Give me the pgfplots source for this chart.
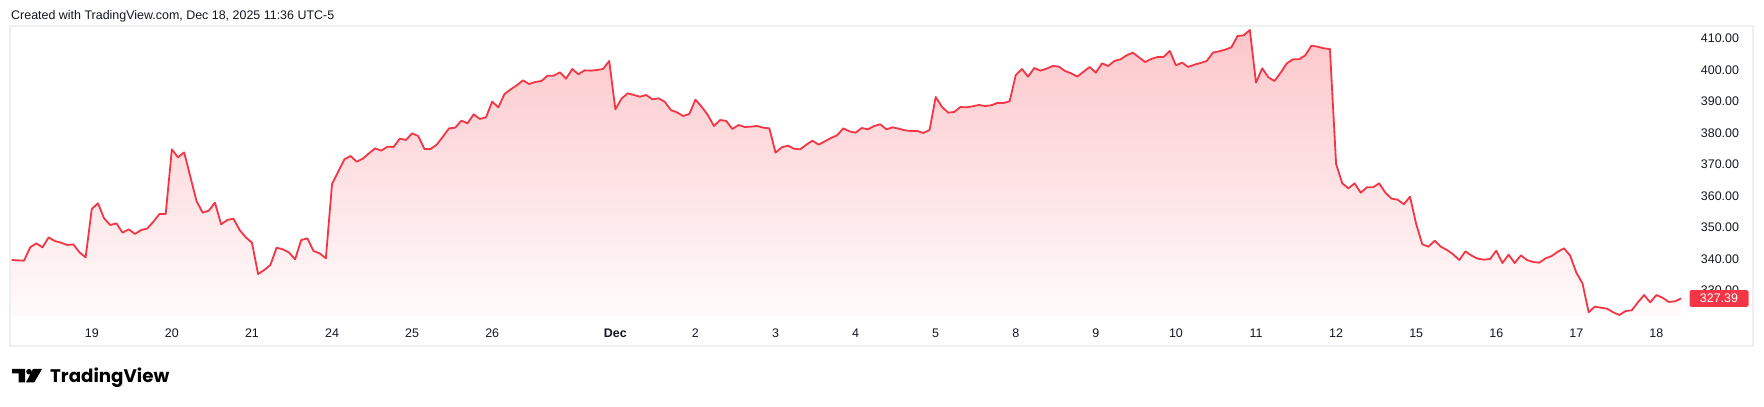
\documentclass[border=0pt]{standalone}
\usepackage{pgfplots}
\pgfplotsset{compat=1.18}
\usepackage{pgfplotstable}
\usepackage{fontspec}
\setmainfont{Liberation Sans}
\newfontfamily\logofont{Poppins}
\definecolor{tvred}{HTML}{F23645}
\definecolor{tvtext}{HTML}{131722}
\definecolor{tvframe}{HTML}{EFEFEF}

\pgfplotstableread{
i v
0 339.61
1 339.50
2 339.39
3 343.63
4 344.90
5 343.63
6 346.80
7 345.64
8 345.11
9 344.37
10 344.58
11 342.04
12 340.45
13 355.81
14 357.61
15 352.85
16 350.72
17 351.25
18 348.29
19 349.35
20 347.87
21 349.13
22 349.56
23 351.78
24 354.22
25 354.22
26 374.76
27 372.22
28 373.81
29 366.08
30 358.35
31 354.64
32 355.28
33 357.82
34 350.93
35 352.31
36 352.74
37 349.13
38 346.80
39 345.11
40 335.16
41 336.43
42 338.02
43 343.52
44 342.99
45 342.04
46 339.82
47 345.95
48 346.49
49 342.46
50 341.72
51 340.13
52 363.75
53 367.67
54 371.58
55 372.64
56 370.84
57 371.80
58 373.49
59 375.08
60 374.34
61 375.61
62 375.50
63 378.15
64 377.72
65 379.84
66 378.99
67 374.87
68 374.87
69 376.24
70 378.78
71 381.43
72 381.64
73 383.87
74 383.02
75 385.88
76 384.40
77 384.93
78 389.90
79 388.10
80 392.34
81 393.82
82 395.09
83 396.68
84 395.51
85 396.15
86 396.47
87 398.16
88 398.16
89 399.22
90 397.21
91 400.28
92 398.59
93 399.86
94 399.75
95 399.96
96 400.28
97 402.82
98 387.47
99 390.86
100 392.55
101 392.02
102 391.49
103 392.02
104 390.64
105 390.96
106 389.90
107 387.25
108 386.51
109 385.35
110 385.98
111 390.54
112 388.31
113 385.67
114 382.17
115 384.08
116 383.76
117 381.22
118 382.49
119 381.86
120 381.96
121 382.17
122 381.64
123 381.43
124 373.70
125 375.39
126 375.92
127 374.97
128 374.76
129 376.24
130 377.51
131 376.24
132 377.30
133 378.36
134 379.21
135 381.43
136 380.48
137 380.05
138 381.54
139 381.12
140 382.17
141 382.70
142 381.12
143 381.75
144 381.33
145 380.80
146 380.58
147 380.58
148 379.95
149 380.90
150 391.38
151 388.31
152 386.41
153 386.62
154 388.21
155 388.10
156 388.42
157 388.84
158 388.53
159 388.74
160 389.48
161 389.48
162 390.01
163 398.37
164 400.28
165 397.84
166 400.60
167 399.75
168 400.39
169 401.23
170 401.02
171 399.64
172 398.90
173 397.84
174 399.43
175 400.92
176 399.11
177 402.08
178 401.23
179 402.82
180 403.35
181 404.62
182 405.47
183 403.99
184 402.50
185 403.46
186 404.09
187 404.09
188 406.00
189 401.45
190 402.29
191 400.92
192 401.66
193 402.19
194 402.82
195 405.47
196 405.89
197 406.42
198 407.16
199 410.76
200 410.97
201 412.67
202 395.94
203 400.49
204 397.63
205 396.47
206 399.11
207 402.08
208 403.35
209 403.35
210 404.62
211 407.69
212 407.37
213 406.84
214 406.63
215 370.10
216 363.96
217 362.37
218 363.96
219 360.99
220 362.69
221 362.69
222 363.96
223 360.99
224 359.09
225 358.77
226 357.29
227 359.72
228 351.04
229 344.58
230 343.84
231 345.74
232 343.84
233 342.78
234 341.40
235 339.61
236 342.36
237 340.98
238 340.03
239 339.71
240 339.92
241 342.57
242 338.65
243 341.29
244 338.65
245 341.08
246 339.61
247 338.97
248 338.76
249 340.13
250 340.87
251 342.25
252 343.31
253 340.98
254 335.58
255 332.19
256 323.01
257 324.78
258 324.46
259 324.14
260 322.98
261 322.13
262 323.40
263 323.62
264 326.16
265 328.48
266 326.16
267 328.48
268 327.64
269 326.27
270 326.48
271 327.39
}\pricedata

\begin{document}
\begin{tikzpicture}
\fill[white] (0,0) rectangle (1764bp,407bp);
\path[use as bounding box] (0,0) rectangle (1764bp,407bp);
\draw[tvframe, line width=2bp] (9.5bp,60.5bp) rectangle (1753bp,380.5bp);
\node[anchor=base west, inner sep=0pt, text=tvtext, font=\fontsize{12.5}{15}\selectfont] at (11bp,387bp) {Created with TradingView.com, Dec 18, 2025 11:36 UTC-5};
\begin{axis}[
  at={(10.5bp,91bp)}, anchor=south west,
  scale only axis, width=1678.5bp, height=289bp,
  xmin=-0.195, xmax=272.29, ymin=321.82, ymax=413.62,
  axis line style={draw=none},
  major tick length=0pt,
  xtick={13,26,39,52,65,78,98,111,124,137,150,163,176,189,202,215,228,241,254,267},
  xticklabels={19,20,21,24,25,26,\textbf{Dec},2,3,4,5,8,9,10,11,12,15,16,17,18},
  ytick={330,340,350,360,370,380,390,400,410},
  yticklabels={330.00,340.00,350.00,360.00,370.00,380.00,390.00,400.00,410.00},
  yticklabel pos=right,
  tick label style={font=\fontsize{12.5}{15}\selectfont, text=tvtext, inner sep=0pt},
  xticklabel style={anchor=center, yshift=-17bp},
  yticklabel style={anchor=west, xshift=11.7bp},
  extra y ticks={327.39},
  extra y tick labels={327.39},
  extra y tick style={yticklabel style={fill=tvred, text=white, xshift=-11.4bp, minimum width=59bp, minimum height=16.7bp, rounded corners=1.5bp}},
]
\addplot[draw=none, top color=tvred!28!white, bottom color=tvred!2!white] table[x=i,y=v]{\pricedata} |- (axis cs:0,321.82) -- cycle;
\addplot[tvred, line width=1.8bp, line join=round] table[x=i,y=v]{\pricedata};
\end{axis}
% TradingView logo
\fill[black] (12bp,38bp) -- (25bp,38bp) -- (25bp,24.7bp) -- (18.5bp,24.7bp) -- (18.5bp,33.5bp) -- (12bp,33.5bp) -- cycle;
\fill[black] (29bp,35.3bp) circle (2.8bp);
\fill[black] (33bp,38bp) -- (42bp,38bp) -- (34.3bp,24.7bp) -- (26bp,24.7bp) -- cycle;
\node[anchor=base west, inner sep=0pt, text=black, font=\logofont\bfseries\fontsize{18.3}{20}\selectfont] at (50bp,24.7bp) {TradingView};
\end{tikzpicture}
\end{document}
